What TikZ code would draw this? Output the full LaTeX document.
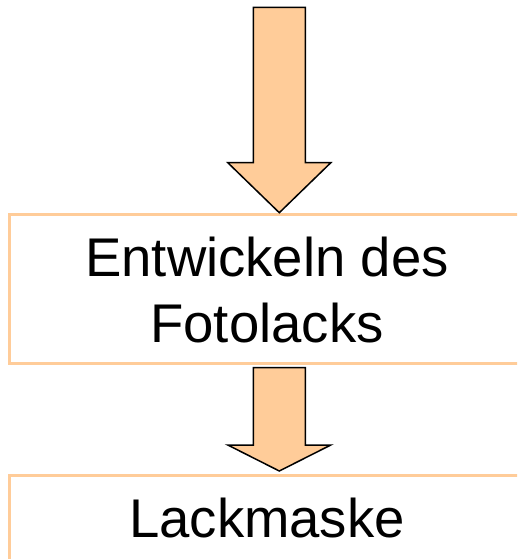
\documentclass[tikz,border=0pt]{standalone}
\usepackage{fontspec}
\setmainfont{Liberation Sans}
\definecolor{peach}{HTML}{FFCC99}
\begin{document}
\begin{tikzpicture}[x=1pt, y=-1pt,
  stagebox/.style={draw=peach, line width=3pt, rectangle, inner sep=0pt},
  stagetext/.style={font=\fontsize{54.5}{65.6}\selectfont, inner sep=0pt, anchor=base},
  flowarrow/.style={fill=peach, draw=black, line width=1.5pt, line join=miter}]
  \useasboundingbox (0,0) rectangle (517,559);
  \clip (0,0) rectangle (517,559);

  % process stages
  \node[stagebox, minimum width=514.5pt, minimum height=149.5pt] (develop)
    at (266.75,288.75) {};
  \node[stagebox, minimum width=514.5pt, minimum height=89.4pt] (mask)
    at (266.75,520) {};

  % stage labels
  \node[stagetext] (developline1) at (267,276.7) {Entwickeln des};
  \node[stagetext] (developline2) at (267,342.3) {Fotolacks};
  \node[stagetext] (masktext) at (267,537.7) {Lackmaske};

  % block arrows between the stages
  \draw[flowarrow] (253.3,7.3) -- (305.3,7.3) -- (305.3,162.7) -- (330.8,162.7)
    -- (279.3,212.7) -- (227.8,162.7) -- (253.3,162.7) -- cycle;
  \draw[flowarrow] (253.3,367.7) -- (305.3,367.7) -- (305.3,445) -- (330.8,445)
    -- (279.3,471) -- (227.8,445) -- (253.3,445) -- cycle;
\end{tikzpicture}
\end{document}
